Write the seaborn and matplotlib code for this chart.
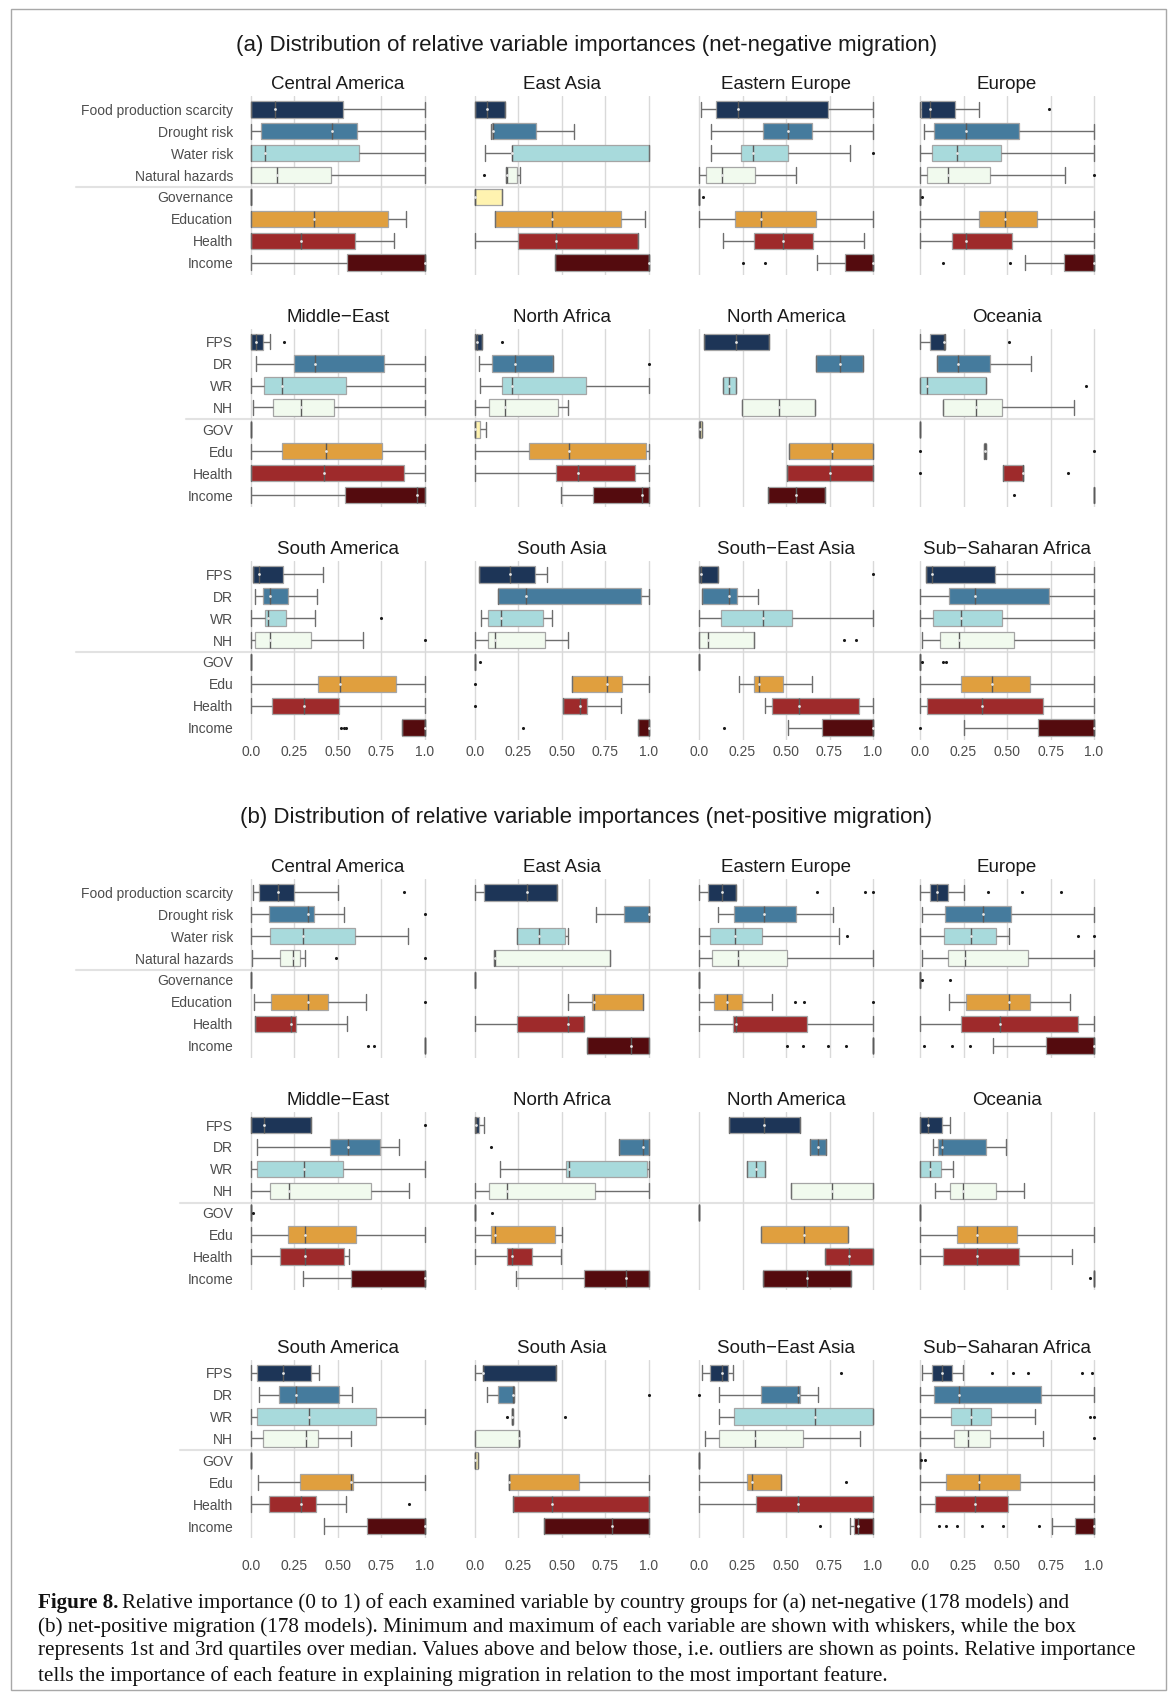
import numpy as np
import pandas as pd
import matplotlib
matplotlib.use("Agg")
import matplotlib.pyplot as plt
from matplotlib.lines import Line2D
from matplotlib.patches import Rectangle
import seaborn as sns

W, H = 1173, 1705

full_labels = ["Food production scarcity", "Drought risk", "Water risk", "Natural hazards",
               "Governance", "Education", "Health", "Income"]
short_labels = ["FPS", "DR", "WR", "NH", "GOV", "Edu", "Health", "Income"]
colors = ["#1d3557", "#457b9d", "#a8dadc", "#f1faee", "#fff3b0", "#e09f3e", "#9e2a2b", "#540b0e"]
tick_vals = [0, 0.25, 0.5, 0.75, 1.0]
tick_labels = ["0.0", "0.25", "0.50", "0.75", "1.0"]
regions = ["Central America", "East Asia", "Eastern Europe", "Europe",
           "Middle\u2212East", "North Africa", "North America", "Oceania",
           "South America", "South Asia", "South\u2212East Asia", "Sub\u2212Saharan Africa"]

# each box: (lower whisker, Q1, median, Q3, upper whisker), order FPS..Income
# (a) net-negative migration
neg_central_america = [(0, 0, 0.14, 0.53, 1.0), (0, 0.057, 0.465, 0.61, 1.0), (0, 0, 0.08, 0.62, 1.0),
                       (0, 0, 0.15, 0.46, 1.0), (0, 0, 0, 0, 0), (0, 0, 0.36, 0.785, 0.89),
                       (0, 0, 0.29, 0.60, 0.82), (0, 0.55, 1.0, 1.0, 1.0)]
neg_central_america_out = []
neg_east_asia = [(0, 0, 0.07, 0.17, 0.17), (0.09, 0.10, 0.105, 0.35, 0.57), (0.057, 0.21, 0.21, 1.0, 1.0),
                 (0.18, 0.18, 0.185, 0.24, 0.26), (0, 0, 0, 0.155, 0.155), (0.115, 0.115, 0.44, 0.84, 0.975),
                 (0, 0.245, 0.465, 0.937, 0.937), (0.46, 0.46, 1.0, 1.0, 1.0)]
neg_east_asia_out = [("NH", 0.05)]
neg_eastern_europe = [(0.013, 0.10, 0.225, 0.74, 1.0), (0.07, 0.37, 0.51, 0.65, 1.0), (0.07, 0.24, 0.31, 0.51, 0.865),
                      (0, 0.04, 0.13, 0.32, 0.555), (0, 0, 0, 0, 0), (0, 0.205, 0.355, 0.67, 1.0),
                      (0.14, 0.317, 0.48, 0.654, 0.95), (0.676, 0.84, 1.0, 1.0, 1.0)]
neg_eastern_europe_out = [("WR", 1.0), ("GOV", 0.025), ("Income", 0.25), ("Income", 0.38)]
neg_europe = [(0, 0.006, 0.057, 0.20, 0.34), (0.022, 0.08, 0.267, 0.57, 1.0), (0, 0.07, 0.213, 0.463, 1.0),
              (0, 0.038, 0.162, 0.40, 0.835), (0, 0, 0, 0, 0), (0, 0.337, 0.486, 0.673, 1.0),
              (0, 0.184, 0.263, 0.527, 1.0), (0.606, 0.83, 1.0, 1.0, 1.0)]
neg_europe_out = [("FPS", 0.743), ("NH", 1.0), ("GOV", 0.01), ("Income", 0.13), ("Income", 0.517)]
neg_middle_east = [(0, 0, 0.03, 0.07, 0.108), (0.03, 0.25, 0.37, 0.763, 1.0), (0, 0.073, 0.18, 0.547, 1.0),
                   (0.013, 0.127, 0.285, 0.478, 1.0), (0, 0, 0, 0, 0), (0, 0.177, 0.43, 0.753, 1.0),
                   (0, 0, 0.418, 0.88, 1.0), (0, 0.538, 0.955, 1.0, 1.0)]
neg_middle_east_out = [("FPS", 0.19)]
neg_north_africa = [(0, 0, 0.013, 0.04, 0.04), (0.025, 0.095, 0.23, 0.45, 0.45), (0.03, 0.158, 0.215, 0.64, 1.0),
                    (0, 0.082, 0.17, 0.475, 0.535), (0, 0, 0, 0.03, 0.066), (0, 0.313, 0.54, 0.98, 1.0),
                    (0, 0.465, 0.59, 0.918, 1.0), (0.497, 0.677, 0.96, 1.0, 1.0)]
neg_north_africa_out = [("FPS", 0.155), ("DR", 1.0)]
neg_north_america = [(0.03, 0.03, 0.215, 0.40, 0.40), (0.67, 0.67, 0.81, 0.94, 0.94), (0.14, 0.14, 0.175, 0.21, 0.21),
                     (0.248, 0.248, 0.457, 0.667, 0.667), (0, 0, 0.005, 0.015, 0.015), (0.52, 0.52, 0.762, 1.0, 1.0),
                     (0.505, 0.505, 0.75, 1.0, 1.0), (0.397, 0.397, 0.56, 0.724, 0.724)]
neg_north_america_out = []
neg_oceania = [(0, 0.057, 0.14, 0.146, 0.146), (0.10, 0.10, 0.22, 0.40, 0.638), (0, 0, 0.04, 0.38, 0.38),
               (0.133, 0.133, 0.324, 0.47, 0.883), (0, 0, 0, 0, 0), (0.365, 0.365, 0.372, 0.378, 0.378),
               (0.476, 0.476, 0.59, 0.59, 0.59), (1.0, 1.0, 1.0, 1.0, 1.0)]
neg_oceania_out = [("FPS", 0.514), ("WR", 0.955), ("Edu", 0.0), ("Edu", 1.0), ("Health", 0.0),
                   ("Health", 0.85), ("Income", 0.54)]
neg_south_america = [(0.013, 0.013, 0.044, 0.184, 0.415), (0.022, 0.07, 0.11, 0.212, 0.38), (0, 0.08, 0.095, 0.20, 0.37),
                     (0, 0.022, 0.11, 0.345, 0.645), (0, 0, 0, 0, 0), (0, 0.386, 0.513, 0.832, 1.0),
                     (0, 0.123, 0.307, 0.506, 1.0), (0.867, 0.867, 1.0, 1.0, 1.0)]
neg_south_america_out = [("WR", 0.75), ("NH", 1.0), ("Income", 0.52), ("Income", 0.533), ("Income", 0.547)]
neg_south_asia = [(0.022, 0.022, 0.2, 0.342, 0.415), (0.133, 0.133, 0.294, 0.953, 1.0), (0.035, 0.073, 0.152, 0.39, 0.44),
                  (0, 0.076, 0.114, 0.40, 0.535), (0, 0, 0, 0, 0), (0.557, 0.557, 0.76, 0.845, 1.0),
                  (0.503, 0.503, 0.604, 0.646, 0.84), (0.937, 0.937, 1.0, 1.0, 1.0)]
neg_south_asia_out = [("GOV", 0.028), ("Edu", 0.0), ("Health", 0.0), ("Income", 0.275)]
neg_south_east_asia = [(0, 0, 0.013, 0.108, 0.108), (0.016, 0.016, 0.175, 0.216, 0.34), (0, 0.127, 0.368, 0.533, 1.0),
                       (0, 0, 0.05, 0.314, 0.314), (0, 0, 0, 0, 0), (0.232, 0.317, 0.346, 0.48, 0.648),
                       (0.38, 0.422, 0.575, 0.917, 1.0), (0.51, 0.708, 1.0, 1.0, 1.0)]
neg_south_east_asia_out = [("FPS", 1.0), ("NH", 0.835), ("NH", 0.905), ("Income", 0.146)]
neg_sub_saharan_africa = [(0.032, 0.032, 0.067, 0.432, 1.0), (0, 0.165, 0.317, 0.74, 1.0), (0, 0.073, 0.235, 0.47, 1.0),
                          (0.013, 0.114, 0.222, 0.543, 1.0), (0, 0, 0, 0, 0), (0, 0.235, 0.413, 0.632, 1.0),
                          (0, 0.041, 0.356, 0.705, 1.0), (0.254, 0.676, 1.0, 1.0, 1.0)]
neg_sub_saharan_africa_out = [("GOV", 0.013), ("GOV", 0.133), ("GOV", 0.149), ("Income", 0.0)]

# (b) net-positive migration
pos_central_america = [(0.01, 0.048, 0.155, 0.25, 0.5), (0, 0.106, 0.325, 0.363, 0.537), (0, 0.11, 0.296, 0.60, 0.90),
                       (0.006, 0.167, 0.24, 0.283, 0.312), (0, 0, 0, 0, 0), (0.02, 0.116, 0.325, 0.44, 0.66),
                       (0.022, 0.022, 0.228, 0.26, 0.55), (1.0, 1.0, 1.0, 1.0, 1.0)]
pos_central_america_out = [("FPS", 0.878), ("DR", 1.0), ("NH", 0.486), ("NH", 1.0), ("Edu", 1.0),
                           ("Income", 0.67), ("Income", 0.705)]
pos_east_asia = [(0, 0.05, 0.30, 0.473, 0.473), (0.695, 0.858, 1.0, 1.0, 1.0), (0.244, 0.244, 0.366, 0.518, 0.534),
                 (0.11, 0.11, 0.115, 0.775, 0.775), (0, 0, 0, 0, 0), (0.537, 0.672, 0.685, 0.968, 0.968),
                 (0, 0.244, 0.534, 0.624, 0.624), (0.643, 0.643, 0.897, 1.0, 1.0)]
pos_east_asia_out = []
pos_eastern_europe = [(0, 0.054, 0.133, 0.215, 0.215), (0.108, 0.203, 0.373, 0.56, 0.77), (0, 0.066, 0.206, 0.364, 0.804),
                      (0, 0.073, 0.222, 0.503, 1.0), (0, 0, 0, 0, 0), (0, 0.085, 0.161, 0.247, 0.42),
                      (0, 0.196, 0.215, 0.62, 1.0), (1.0, 1.0, 1.0, 1.0, 1.0)]
pos_eastern_europe_out = [("FPS", 0.677), ("FPS", 0.955), ("FPS", 1.0), ("WR", 0.848), ("Edu", 0.554),
                          ("Edu", 0.604), ("Edu", 1.0), ("Income", 0.506), ("Income", 0.595),
                          ("Income", 0.744), ("Income", 0.845)]
pos_europe = [(0, 0.058, 0.097, 0.159, 0.25), (0.013, 0.146, 0.36, 0.523, 1.0), (0, 0.136, 0.292, 0.435, 0.51),
              (0.013, 0.159, 0.256, 0.62, 1.0), (0, 0, 0, 0, 0), (0.169, 0.266, 0.513, 0.63, 0.86),
              (0, 0.234, 0.458, 0.909, 1.0), (0.422, 0.727, 1.0, 1.0, 1.0)]
pos_europe_out = [("FPS", 0.393), ("FPS", 0.588), ("FPS", 0.808), ("WR", 0.906), ("WR", 1.0), ("GOV", 0.013),
                  ("GOV", 0.175), ("Income", 0.023), ("Income", 0.185), ("Income", 0.286)]
pos_middle_east = [(0, 0, 0.077, 0.342, 0.342), (0.035, 0.454, 0.556, 0.744, 0.853), (0, 0.032, 0.307, 0.527, 1.0),
                   (0, 0.109, 0.22, 0.687, 0.91), (0, 0, 0, 0, 0), (0, 0.21, 0.313, 0.604, 1.0),
                   (0, 0.169, 0.313, 0.534, 0.565), (0.30, 0.575, 1.0, 1.0, 1.0)]
pos_middle_east_out = [("FPS", 1.0), ("GOV", 0.01)]
pos_north_africa = [(0, 0, 0.005, 0.022, 0.05), (0.826, 0.826, 0.968, 1.0, 1.0), (0.145, 0.524, 0.543, 0.987, 1.0),
                    (0, 0.08, 0.183, 0.688, 1.0), (0, 0, 0, 0, 0), (0, 0.09, 0.113, 0.46, 0.498),
                    (0, 0.183, 0.212, 0.325, 0.492), (0.238, 0.627, 0.865, 1.0, 1.0)]
pos_north_africa_out = [("DR", 0.09), ("GOV", 0.1)]
pos_north_america = [(0.17, 0.17, 0.375, 0.58, 0.58), (0.64, 0.64, 0.685, 0.729, 0.729), (0.274, 0.274, 0.325, 0.379, 0.379),
                     (0.527, 0.527, 0.763, 1.0, 1.0), (0, 0, 0, 0, 0), (0.356, 0.356, 0.606, 0.858, 0.858),
                     (0.722, 0.722, 0.864, 1.0, 1.0), (0.369, 0.369, 0.62, 0.874, 0.874)]
pos_north_america_out = []
pos_oceania = [(0, 0, 0.045, 0.124, 0.175), (0.076, 0.105, 0.127, 0.379, 0.497), (0, 0, 0.06, 0.121, 0.191),
               (0.089, 0.175, 0.245, 0.436, 0.599), (0, 0, 0, 0, 0), (0, 0.21, 0.328, 0.557, 1.0),
               (0, 0.13, 0.325, 0.57, 0.876), (1.0, 1.0, 1.0, 1.0, 1.0)]
pos_oceania_out = [("Income", 0.975)]
pos_south_america = [(0, 0.035, 0.185, 0.344, 0.389), (0.045, 0.159, 0.261, 0.503, 0.583), (0, 0.035, 0.331, 0.717, 1.0),
                     (0, 0.067, 0.318, 0.385, 0.573), (0, 0, 0, 0, 0), (0.038, 0.283, 0.573, 0.589, 1.0),
                     (0, 0.102, 0.287, 0.376, 0.545), (0.417, 0.669, 1.0, 1.0, 1.0)]
pos_south_america_out = [("Health", 0.908)]
pos_south_asia = [(0, 0.048, 0.048, 0.463, 0.463), (0.068, 0.135, 0.219, 0.225, 0.225), (0.212, 0.212, 0.215, 0.219, 0.219),
                  (0, 0, 0.254, 0.254, 0.254), (0, 0, 0, 0.016, 0.016), (0.193, 0.193, 0.193, 0.595, 1.0),
                  (0.219, 0.219, 0.44, 1.0, 1.0), (0.395, 0.395, 0.788, 1.0, 1.0)]
pos_south_asia_out = [("DR", 1.0), ("WR", 0.186), ("WR", 0.52)]
pos_south_east_asia = [(0.016, 0.063, 0.132, 0.167, 0.196), (0.117, 0.356, 0.568, 0.58, 0.685), (0.117, 0.202, 0.666, 1.0, 1.0),
                       (0.032, 0.117, 0.322, 0.6, 0.924), (0, 0, 0, 0, 0), (0, 0.274, 0.303, 0.47, 0.47),
                       (0, 0.328, 0.568, 1.0, 1.0), (0.87, 0.893, 0.912, 1.0, 1.0)]
pos_south_east_asia_out = [("FPS", 0.814), ("DR", 0.0), ("Edu", 0.842), ("Income", 0.694)]
pos_sub_saharan_africa = [(0.013, 0.07, 0.124, 0.185, 0.245), (0, 0.08, 0.226, 0.694, 1.0), (0, 0.178, 0.293, 0.41, 0.662),
                          (0, 0.197, 0.277, 0.404, 0.707), (0, 0, 0, 0, 0), (0, 0.15, 0.338, 0.576, 1.0),
                          (0, 0.086, 0.315, 0.503, 1.0), (0.758, 0.892, 1.0, 1.0, 1.0)]
pos_sub_saharan_africa_out = [("FPS", 0.414), ("FPS", 0.532), ("FPS", 0.621), ("FPS", 0.933), ("FPS", 0.99),
                              ("WR", 0.978), ("WR", 1.0), ("NH", 1.0), ("GOV", 0.006), ("GOV", 0.03),
                              ("Income", 0.111), ("Income", 0.15), ("Income", 0.21), ("Income", 0.357),
                              ("Income", 0.475), ("Income", 0.685)]

neg_panels = [(neg_central_america, neg_central_america_out), (neg_east_asia, neg_east_asia_out),
              (neg_eastern_europe, neg_eastern_europe_out), (neg_europe, neg_europe_out),
              (neg_middle_east, neg_middle_east_out), (neg_north_africa, neg_north_africa_out),
              (neg_north_america, neg_north_america_out), (neg_oceania, neg_oceania_out),
              (neg_south_america, neg_south_america_out), (neg_south_asia, neg_south_asia_out),
              (neg_south_east_asia, neg_south_east_asia_out), (neg_sub_saharan_africa, neg_sub_saharan_africa_out)]
pos_panels = [(pos_central_america, pos_central_america_out), (pos_east_asia, pos_east_asia_out),
              (pos_eastern_europe, pos_eastern_europe_out), (pos_europe, pos_europe_out),
              (pos_middle_east, pos_middle_east_out), (pos_north_africa, pos_north_africa_out),
              (pos_north_america, pos_north_america_out), (pos_oceania, pos_oceania_out),
              (pos_south_america, pos_south_america_out), (pos_south_asia, pos_south_asia_out),
              (pos_south_east_asia, pos_south_east_asia_out), (pos_sub_saharan_africa, pos_sub_saharan_africa_out)]

sns.set_theme(style="white")
plt.rcParams["font.family"] = ["Liberation Sans", "DejaVu Sans"]

fig = plt.figure(figsize=(W / 100, H / 100), dpi=100)
palette = dict(zip(short_labels, colors))

col_x0 = [251, 475, 699, 920]      # pixel x of value 0 in each column
unit = 174                         # pixels for 0..1
row_h = 21.9                       # pixels per category row
y_lo, y_hi = -0.6, 7.55
row_tops = [96.2, 328.6, 561.2, 879.2, 1111.9, 1359.6]
sep_start = [76, 186, 76, 76, 180, 180]


def draw_panel(ax, title, boxes, outliers, ylabels, show_x, xpad):
    recs = [(lab, v) for lab, b in zip(short_labels, boxes) for v in b]
    df = pd.DataFrame(recs, columns=["var", "value"])
    sns.boxplot(data=df, x="value", y="var", hue="var", order=short_labels, hue_order=short_labels,
                palette=palette, saturation=1, width=0.75, whis=(0, 100), showfliers=False,
                linecolor="#a5a5a5", linewidth=0.9, legend=False, ax=ax, capwidths=0.7,
                medianprops=dict(color="#5a5a5a", linewidth=1.0),
                whiskerprops=dict(color="#6e6e6e", linewidth=1.0),
                capprops=dict(color="#6e6e6e", linewidth=1.0))
    for i, b in enumerate(boxes):
        if b[3] > b[1]:
            ax.scatter(b[2], i, s=4, color="#e6e6e6", zorder=5, linewidths=0)
    for lab, v in outliers:
        ax.scatter(v, short_labels.index(lab), s=5, color="#1a1a1a", zorder=5, linewidths=0)
    ax.set_xlim(-0.03, 1.03)
    ax.set_ylim(y_hi, y_lo)
    ax.set_xticks(tick_vals)
    ax.set_xticklabels(tick_labels if show_x else [])
    ax.set_yticks(range(8))
    ax.set_yticklabels(ylabels if ylabels else [])
    ax.grid(axis="x", color="#d9d9d9", linewidth=1)
    ax.grid(axis="y", visible=False)
    ax.set_axisbelow(True)
    ax.set_facecolor("none")
    ax.set_xlabel("")
    ax.set_ylabel("")
    ax.tick_params(axis="both", length=0, labelsize=10, colors="#4d4d4d")
    ax.tick_params(axis="y", pad=9)
    ax.tick_params(axis="x", pad=xpad)
    for s in ax.spines.values():
        s.set_visible(False)
    ax.set_title(title, fontsize=13.5, color="#1a1a1a", pad=5)


for part, panels in enumerate([neg_panels, pos_panels]):
    for k, (boxes, outs) in enumerate(panels):
        r, c = divmod(k, 4)
        top = row_tops[part * 3 + r]
        left = col_x0[c] - 0.03 * unit
        width = 1.06 * unit
        height = (y_hi - y_lo) * row_h
        ax = fig.add_axes([left / W, 1 - (top + height) / H, width / W, height / H])
        ylabels = None
        if c == 0:
            ylabels = full_labels if r == 0 else short_labels
        draw_panel(ax, regions[k], boxes, outs, ylabels, r == 2, 3.5 if part == 0 else 15)
        if c == 0:
            ysep = top + (3.55 - y_lo) * row_h
            fig.add_artist(Line2D([sep_start[part * 3 + r] / W, 1093 / W], [1 - ysep / H] * 2,
                                  color="#e2e2e2", linewidth=1.5, zorder=-1))

fig.text(0.5, 1 - 46 / H, "(a) Distribution of relative variable importances (net-negative migration)",
         ha="center", va="center", fontsize=16, color="#1a1a1a")
fig.text(0.5, 1 - 817 / H, "(b) Distribution of relative variable importances (net-positive migration)",
         ha="center", va="center", fontsize=16, color="#1a1a1a")

# caption
cap_font = ["Liberation Serif", "DejaVu Serif"]
cap_size = 15.2
cap_lines = [
    "Relative importance (0 to 1) of each examined variable by country groups for (a) net-negative (178 models) and",
    "(b) net-positive migration (178 models). Minimum and maximum of each variable are shown with whiskers, while the box",
    "represents 1st and 3rd quartiles over median. Values above and below those, i.e. outliers are shown as points. Relative importance",
    "tells the importance of each feature in explaining migration in relation to the most important feature.",
]
cap_y = [1603, 1627, 1651, 1676]
bold = fig.text(38 / W, 1 - cap_y[0] / H, "Figure 8.", family=cap_font, fontweight="bold",
                fontsize=cap_size, va="center", ha="left", color="#111111")
renderer = fig.canvas.get_renderer()
bb = bold.get_window_extent(renderer=renderer)
fig.text(bb.x1 / W + 4 / W, 1 - cap_y[0] / H, cap_lines[0], family=cap_font, fontsize=cap_size,
         va="center", ha="left", color="#111111")
for line, y in zip(cap_lines[1:], cap_y[1:]):
    fig.text(38 / W, 1 - y / H, line, family=cap_font, fontsize=cap_size, va="center", ha="left",
             color="#111111")

fig.add_artist(Rectangle((11 / W, 1 - 1690 / H), 1155 / W, 1681 / H, transform=fig.transFigure,
                         fill=False, edgecolor="#a8a8a8", linewidth=1))

fig.savefig("out.png", dpi=100)
